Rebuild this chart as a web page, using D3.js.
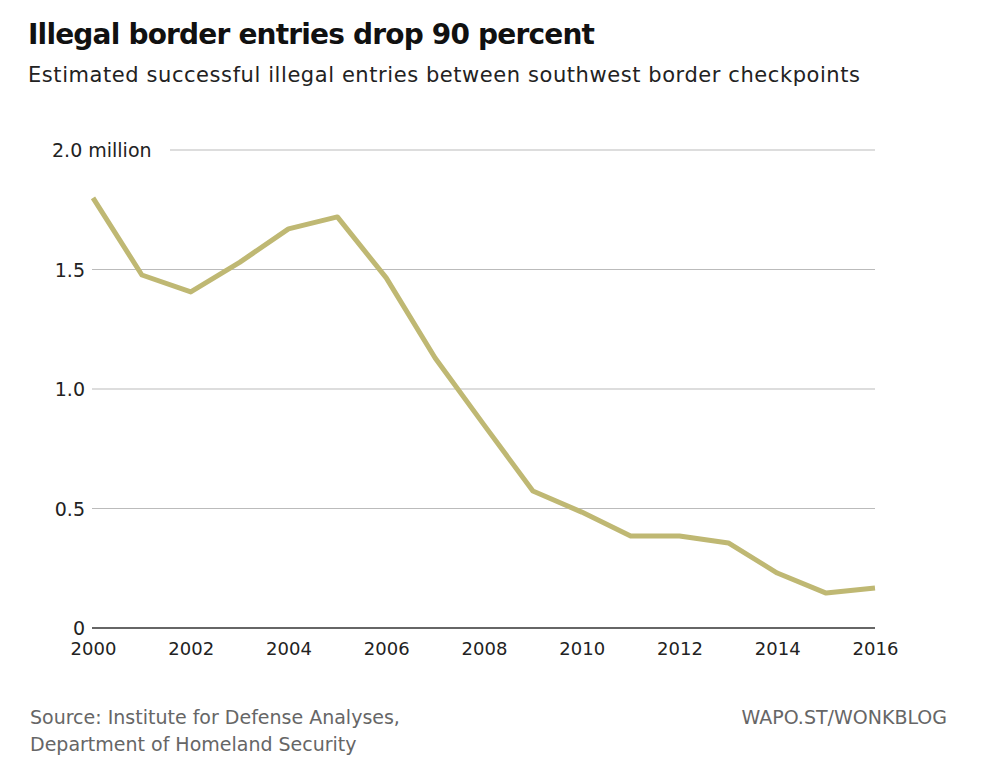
<!DOCTYPE html>
<html>
<head>
<script src="https://d3js.org/d3.v7.min.js"></script>
<style>body{margin:0;background:#fff;font-family:"DejaVu Sans",Arial,sans-serif}</style>
</head>
<body>
<script>
var years = [2000,2001,2002,2003,2004,2005,2006,2007,2008,2009,2010,2011,2012,2013,2014,2015,2016]
var entries = [1.80,1.477,1.406,1.53,1.67,1.72,1.465,1.13,0.85,0.573,0.485,0.385,0.385,0.356,0.23,0.146,0.167]
var yTicks = [0,0.5,1.0,1.5,2.0]
var yTickLabels = ["0","0.5","1.0","1.5","2.0 million"]
var xTicks = [2000,2002,2004,2006,2008,2010,2012,2014,2016]

var svg = d3.select("body").append("svg").attr("width",999).attr("height",784)
var x = d3.scaleLinear().domain([2000,2016]).range([93,875])
var y = d3.scaleLinear().domain([0,2]).range([628,150])

svg.append("text").attr("x",28).attr("y",44).attr("font-size",28).attr("font-weight","bold").attr("fill","#111")
  .attr("textLength",567).text("Illegal border entries drop 90 percent")
svg.append("text").attr("x",28).attr("y",82).attr("font-size",21).attr("fill","#222")
  .attr("textLength",832).text("Estimated successful illegal entries between southwest border checkpoints")

yTicks.forEach(function(t,i){
  svg.append("line").attr("x1",i==4?170:92).attr("x2",875).attr("y1",y(t)).attr("y2",y(t))
    .attr("stroke",t==0?"#333":"#bbb").attr("stroke-width",t==0?1.5:1)
  svg.append("text").attr("x",i==4?52:85).attr("y",y(t)+7).attr("font-size",19).attr("fill","#222")
    .attr("text-anchor",i==4?"start":"end").text(yTickLabels[i])
})
var ax = svg.append("g").attr("transform","translate(0,628)")
  .call(d3.axisBottom(x).tickValues(xTicks).tickFormat(d3.format("d")).tickSize(0).tickPadding(14))
ax.select(".domain").remove()
ax.selectAll("text").attr("font-size",18).attr("fill","#222").attr("font-family","DejaVu Sans,Arial,sans-serif")

svg.append("path").datum(years.map(function(d,i){return [d,entries[i]]}))
  .attr("d",d3.line().x(function(d){return x(d[0])}).y(function(d){return y(d[1])}))
  .attr("fill","none").attr("stroke","#bfb873").attr("stroke-width",5).attr("stroke-linejoin","round")

svg.append("text").attr("x",30).attr("y",724).attr("font-size",19).attr("fill","#666").text("Source: Institute for Defense Analyses,")
svg.append("text").attr("x",30).attr("y",751).attr("font-size",19).attr("fill","#666").text("Department of Homeland Security")
svg.append("text").attr("x",947).attr("y",724).attr("font-size",19).attr("fill","#666").attr("text-anchor","end").text("WAPO.ST/WONKBLOG")
</script>
</body>
</html>
